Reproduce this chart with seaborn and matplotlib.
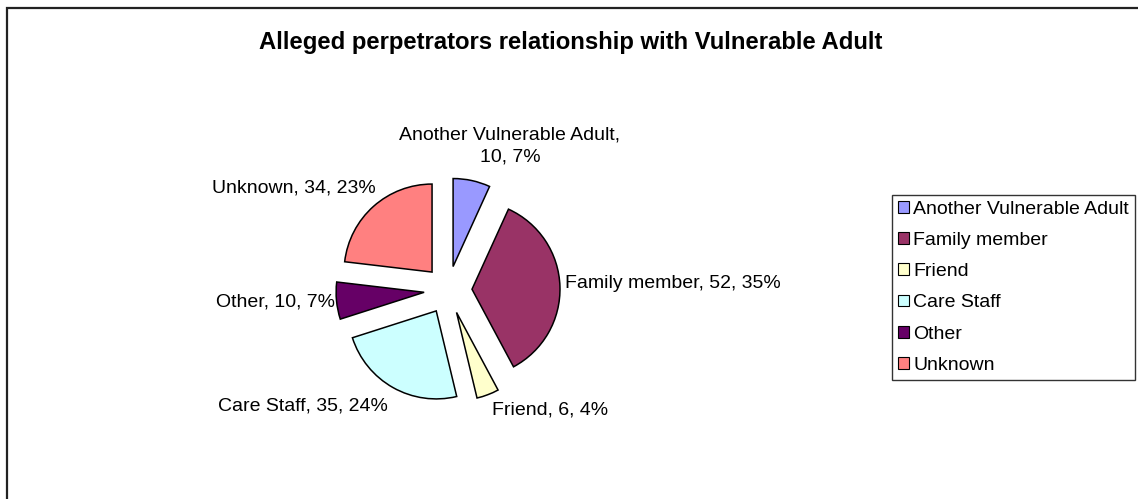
import matplotlib
matplotlib.use("Agg")
import matplotlib.pyplot as plt
from matplotlib.patches import Rectangle
import seaborn as sns

# Data
categories = ["Another Vulnerable Adult", "Family member", "Friend",
              "Care Staff", "Other", "Unknown"]
counts = [10, 52, 6, 35, 10, 34]
colors = ["#9999FF", "#993366", "#FFFFCC", "#CCFFFF", "#660066", "#FF8080"]
title = "Alleged perpetrators relationship with Vulnerable Adult"

# Label anchors in pixel space: (x, y, horizontal alignment)
label_pos = [(510, 146, "center"), (565, 284, "left"), (492, 410, "left"),
             (388, 406, "right"), (335, 302, "right"), (376, 188, "right")]

W, H = 1138, 499
sns.set_theme(style="white")
plt.rcParams["font.family"] = ["Liberation Sans", "DejaVu Sans"]
plt.rcParams["text.color"] = "black"

fig = plt.figure(figsize=(W / 100, H / 100), dpi=100)
fig.patch.set_facecolor("white")
ax = fig.add_axes([0, 0, 1, 1])

# Chart area border (extends past the right and bottom edges)
ax.add_patch(Rectangle((7, -20), W + 40, H - 8 + 20, fill=False,
                       edgecolor="#222222", linewidth=1.6, clip_on=False))

radius = 88
wedges, _ = ax.pie(counts, colors=colors, startangle=90, counterclock=False,
                   radius=radius, center=(448, H - 290),
                   explode=[24] * len(counts),
                   wedgeprops=dict(edgecolor="black", linewidth=1.1),
                   frame=True)
ax.set_xlim(0, W)
ax.set_ylim(0, H)
ax.set_aspect("equal")
ax.axis("off")

total = sum(counts)
for cat, n, (x, y, ha) in zip(categories, counts, label_pos):
    pct = round(100 * n / total)
    if cat == "Another Vulnerable Adult":
        txt = f"{cat},\n{n}, {pct}%"
    else:
        txt = f"{cat}, {n}, {pct}%"
    ax.text(x, H - y, txt, ha=ha, va="center", fontsize=14,
            multialignment="center", color="black", linespacing=1.4)

fig.text(571 / W, 1 - 43 / H, title, ha="center", va="center",
         fontsize=17.2, fontweight="bold", color="black")

leg = ax.legend(wedges, categories, loc="upper right",
                bbox_to_anchor=(1135 / W, 1 - 195 / H),
                bbox_transform=fig.transFigure,
                fontsize=14, frameon=True, fancybox=False,
                edgecolor="black", handlelength=0.55, handleheight=0.55,
                handletextpad=0.25, labelspacing=0.73, borderpad=0.3,
                borderaxespad=0)
leg.get_frame().set_linewidth(1.0)
for h in leg.legend_handles:
    h.set_linewidth(0.8)

fig.savefig("out.png", dpi=100)
